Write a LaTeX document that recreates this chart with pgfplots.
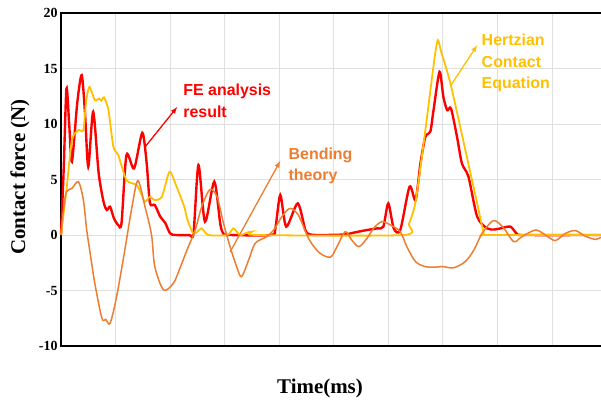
\documentclass[border=0pt]{standalone}
\usepackage{pgfplots}
\pgfplotsset{compat=1.18}
\usepackage{fontspec}
\setmainfont{Liberation Serif}
\newfontfamily\annfont{Liberation Sans}
\definecolor{feRed}{HTML}{FF0000}
\definecolor{hzYel}{HTML}{FFC000}
\definecolor{bdOrg}{HTML}{ED7D31}
\begin{document}
\begin{tikzpicture}[x=1bp,y=1bp]
\useasboundingbox (-61,-59) rectangle (540,346);
\begin{axis}[
  at={(0,0)}, anchor=south west,
  scale only axis, width=540bp, height=333bp,
  xmin=0, xmax=9.9, ymin=-10, ymax=20,
  xtick={0,1,...,9}, xticklabels={},
  ytick={-10,-5,0,5,10,15,20},
  yticklabels={-10,-5,0,5,10,15,20},
  yticklabel style={font=\fontsize{14}{14}\selectfont\bfseries},
  major tick length=0pt,
  grid=major, grid style={gray!25, line width=0.8pt},
  axis line style={draw=none},
  clip=false,
]
\draw[black, line width=2.2pt] (axis cs:0,20) -- (axis cs:9.9,20);
\draw[black, line width=2.2pt] (axis cs:0,-10) -- (axis cs:9.9,-10);
\draw[black, line width=2.2pt] (axis cs:0,-10.1) -- (axis cs:0,20.1);

\addplot[feRed, line width=2.4pt, smooth, tension=0.45] coordinates {
(0,0) (0.05,6) (0.10,13.2) (0.15,10) (0.20,6.6) (0.30,12) (0.38,14.4) (0.44,11)
(0.50,6.15) (0.59,11.1) (0.69,5.6) (0.78,3.0) (0.84,2.25) (0.90,2.55) (0.97,1.5)
(1.05,0.9) (1.11,1.1) (1.2,7.2) (1.34,6.0) (1.49,9.2) (1.57,6.5) (1.63,2.9)
(1.72,2.7) (1.82,1.65) (1.91,1.1) (2.0,0.15) (2.1,0) (2.35,0) (2.43,0.2)
(2.52,6.3) (2.64,1.2) (2.81,4.8) (2.92,1.0) (2.98,0.1) (3.1,0) (3.85,0)
(3.93,0.6) (4.02,3.6) (4.13,0.75) (4.34,2.85) (4.48,0.45) (4.57,0.05) (4.8,0)
(5.2,0.05) (5.4,0.25) (5.61,0.45) (5.8,0.6) (5.91,0.75) (6.0,2.85) (6.1,0.6)
(6.22,0.45) (6.39,4.35) (6.5,3.15) (6.59,6.45) (6.68,8.85) (6.77,9.3)
(6.83,11.25) (6.94,14.7) (7.01,12.45) (7.08,11.25) (7.15,11.4) (7.26,8.85)
(7.35,6.45) (7.47,5.25) (7.63,1.65) (7.81,0.6) (7.95,0.5) (8.06,0.6)
(8.24,0.75) (8.36,0.1) (8.5,0) (9.9,0)
};

\addplot[hzYel, line width=1.8pt, smooth, tension=0.4] coordinates {
(0,0) (0.1,4.05) (0.2,8.55) (0.32,9.45) (0.41,9.45) (0.46,12) (0.52,13.35)
(0.62,12.15) (0.70,12.3) (0.74,12.1) (0.79,12.4) (0.87,11.25) (0.96,7.95)
(1.05,7.2) (1.2,4.95) (1.39,4.5) (1.48,3.6) (1.54,3.0) (1.63,3.45) (1.72,3.15)
(1.85,3.45) (1.99,5.7) (2.12,4.35) (2.26,2.55) (2.31,1.5) (2.42,0.15)
(2.5,0.3) (2.58,0.6) (2.7,0) (3.05,0) (3.16,0.6) (3.28,0) (3.4,0.2) (3.5,0.3)
(3.59,0) (6.28,0) (6.38,1) (6.5,3.0) (6.68,9.45) (6.85,16) (6.91,17.55)
(6.97,16.5) (7.14,13.65) (7.44,7.05) (7.63,2.85) (7.75,0.15) (7.8,0) (9.9,0)
};

\addplot[bdOrg, line width=1.5pt, smooth, tension=0.5] coordinates {
(0,0) (0.05,2.5) (0.1,3.9) (0.2,4.2) (0.32,4.8) (0.41,3.15) (0.47,0.5)
(0.53,-1.5) (0.62,-4.35) (0.75,-7.5) (0.82,-7.6) (0.90,-7.95) (1.02,-5.55)
(1.17,-1.35) (1.3,2.5) (1.41,4.9) (1.54,2.55) (1.66,0) (1.72,-2.85)
(1.88,-4.95) (2.06,-4.35) (2.18,-3.0) (2.31,-1.35) (2.46,0.45) (2.58,2.55)
(2.73,4.1) (2.86,3.45) (2.98,1.05) (3.10,-1.05) (3.22,-2.85) (3.31,-3.75)
(3.44,-2.25) (3.56,-0.75) (3.77,-0.15) (3.9,0.45) (4.05,1.65) (4.2,2.4)
(4.35,1.8) (4.5,0.1) (4.6,-0.8) (4.75,-1.65) (4.94,-2.0) (5.06,-1.05)
(5.21,0.3) (5.33,-0.45) (5.46,-1.05) (5.61,-0.3) (5.73,0.6) (5.88,1.2)
(6.04,0.9) (6.22,0.3) (6.34,-1.05) (6.5,-2.4) (6.68,-2.85) (6.83,-2.9)
(7.0,-2.85) (7.2,-2.95) (7.41,-2.4) (7.57,-1.35) (7.72,0.15) (7.93,1.3)
(8.12,0.6) (8.3,-0.6) (8.45,-0.15) (8.7,0.45) (8.88,0) (9.06,-0.5)
(9.25,0.15) (9.43,0.4) (9.61,-0.1) (9.8,-0.4) (9.9,-0.2)
};

% annotations
\draw[feRed, line width=1.3pt, -latex] (axis cs:1.54,7.93) -- (axis cs:2.13,11.53);
\draw[bdOrg, line width=1.3pt, -latex] (axis cs:3.10,-1.53) -- (axis cs:4.02,6.67);
\draw[hzYel, line width=1.3pt, -latex] (axis cs:7.15,13.5) -- (axis cs:7.63,17.1);
\node[anchor=north west, align=left, inner sep=0pt, text=feRed,
  font=\annfont\bfseries\fontsize{16}{22}\selectfont] at (axis cs:2.24,13.6) {FE analysis\\result};
\node[anchor=north west, align=left, inner sep=0pt, text=bdOrg,
  font=\annfont\bfseries\fontsize{16}{22}\selectfont] at (axis cs:4.17,7.9) {Bending\\theory};
\node[anchor=north west, align=left, inner sep=0pt, text=hzYel,
  font=\annfont\bfseries\fontsize{16}{21.5}\selectfont] at (axis cs:7.71,18.1) {Hertzian\\Contact\\Equation};
\end{axis}
\node[rotate=90, font=\bfseries\fontsize{21}{21}\selectfont] at (-41,169) {Contact force (N)};
\node[font=\bfseries\fontsize{21}{21}\selectfont] at (259,-42) {Time(ms)};
\end{tikzpicture}
\end{document}
